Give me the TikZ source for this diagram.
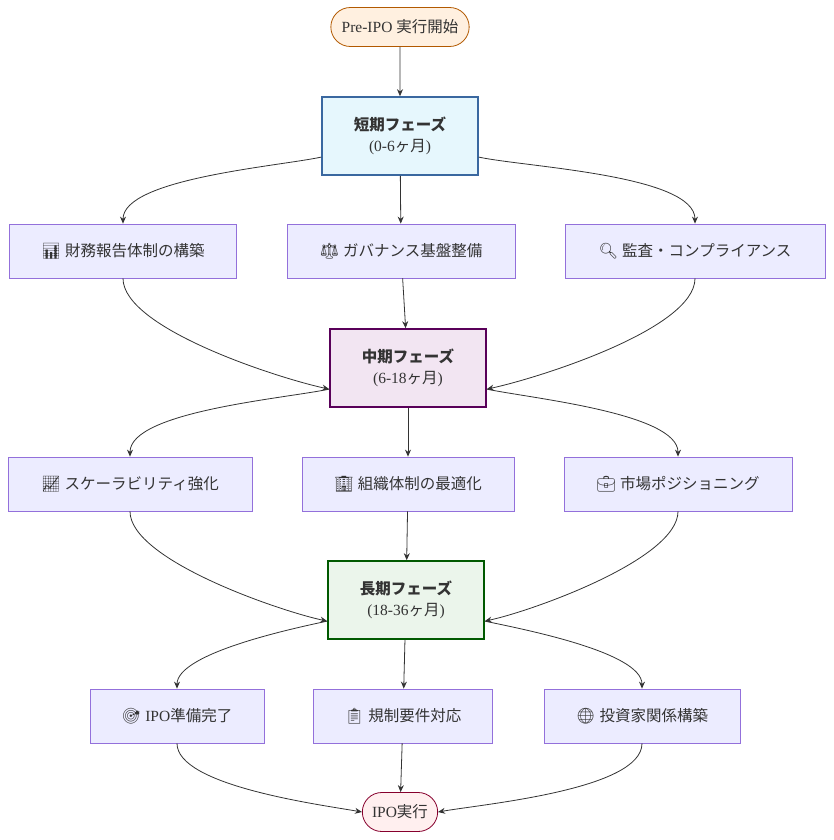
\documentclass[tikz,border=0pt]{standalone}
\usepackage{fontspec}
\setmainfont{Liberation Serif}
\newfontfamily\jp{Noto Sans CJK JP}
\newfontfamily\emo{Noto Emoji}
\usetikzlibrary{arrows.meta,shapes.misc}
\definecolor{boxfill}{HTML}{ECECFF}
\definecolor{boxline}{HTML}{9370DB}
\tikzset{
 box/.style={draw=boxline,fill=boxfill,line width=0.8pt,minimum height=54pt,font=\fontsize{15.5}{18}\selectfont,text=black!80},
 phase/.style={line width=1.6pt,minimum width=156pt,minimum height=78pt,align=center,font=\fontsize{15.5}{21}\selectfont,text=black!80},
 term/.style={rounded rectangle,line width=0.8pt,minimum height=39pt,font=\fontsize{15.5}{18}\selectfont,text=black!80},
 arr/.style={draw=black!80,line width=0.8pt,-{Stealth[length=7pt,width=6pt]}},
 cv/.style={arr,looseness=0.55}
}
\begin{document}
\begin{tikzpicture}[x=1pt,y=-1pt]
\useasboundingbox (0,0) rectangle (834,840);
\node[term,draw=orange!70!black,fill=orange!12,minimum width=145pt] (st) at (400,27) {Pre-IPO {\jp 実行開始}};
\node[phase,draw=cyan!50!blue!75!black,fill=cyan!10] (s) at (400,136) {{\jp\bfseries 短期フェーズ}\\({0-6}{\jp ヶ月})};
\node[box,minimum width=227pt] (a1) at (123,251) {{\emo 📊} {\jp 財務報告体制の構築}};
\node[box,minimum width=228pt] (a2) at (401,251) {{\emo ⚖️} {\jp ガバナンス基盤整備}};
\node[box,minimum width=260pt] (a3) at (695,251) {{\emo 🔍} {\jp 監査・コンプライアンス}};
\node[phase,draw=violet!70!black,fill=violet!10] (m) at (408,368) {{\jp\bfseries 中期フェーズ}\\({6-18}{\jp ヶ月})};
\node[box,minimum width=244pt] (b1) at (130,484) {{\emo 📈} {\jp スケーラビリティ強化}};
\node[box,minimum width=212pt] (b2) at (408,484) {{\emo 🏢} {\jp 組織体制の最適化}};
\node[box,minimum width=228pt] (b3) at (678,484) {{\emo 💼} {\jp 市場ポジショニング}};
\node[phase,draw=green!35!black,fill=green!50!black!8] (l) at (406,600) {{\jp\bfseries 長期フェーズ}\\({18-36}{\jp ヶ月})};
\node[box,minimum width=174pt] (c1) at (177,716) {{\emo 🎯} IPO{\jp 準備完了}};
\node[box,minimum width=179pt] (c2) at (403,716) {{\emo 📋} {\jp 規制要件対応}};
\node[box,minimum width=196pt] (c3) at (642,716) {{\emo 🌐} {\jp 投資家関係構築}};
\node[term,draw=purple!70!black,fill=pink!25,minimum width=82pt] (en) at (400,812) {IPO{\jp 実行}};
\draw[arr] (st) -- (s);
\draw[cv] (s.-165) to[out=-168,in=90] (a1.north);
\draw[arr] (s) -- (a2);
\draw[cv] (s.-15) to[out=-12,in=90] (a3.north);
\draw[cv] (a1.south) to[out=-90,in=168] (m.-165);
\draw[arr] (a2) -- (m);
\draw[cv] (a3.south) to[out=-90,in=12] (m.-15);
\draw[cv] (m.195) to[out=-168,in=90] (b1.north);
\draw[arr] (m) -- (b2);
\draw[cv] (m.-15) to[out=-12,in=90] (b3.north);
\draw[cv] (b1.south) to[out=-90,in=168] (l.-165);
\draw[arr] (b2) -- (l);
\draw[cv] (b3.south) to[out=-90,in=12] (l.-15);
\draw[cv] (l.195) to[out=-168,in=90] (c1.north);
\draw[arr] (l) -- (c2);
\draw[cv] (l.-15) to[out=-12,in=90] (c3.north);
\draw[cv] (c1.south) to[out=-90,in=170] (en.west);
\draw[arr] (c2) -- (en);
\draw[cv] (c3.south) to[out=-90,in=10] (en.east);
\end{tikzpicture}
\end{document}
